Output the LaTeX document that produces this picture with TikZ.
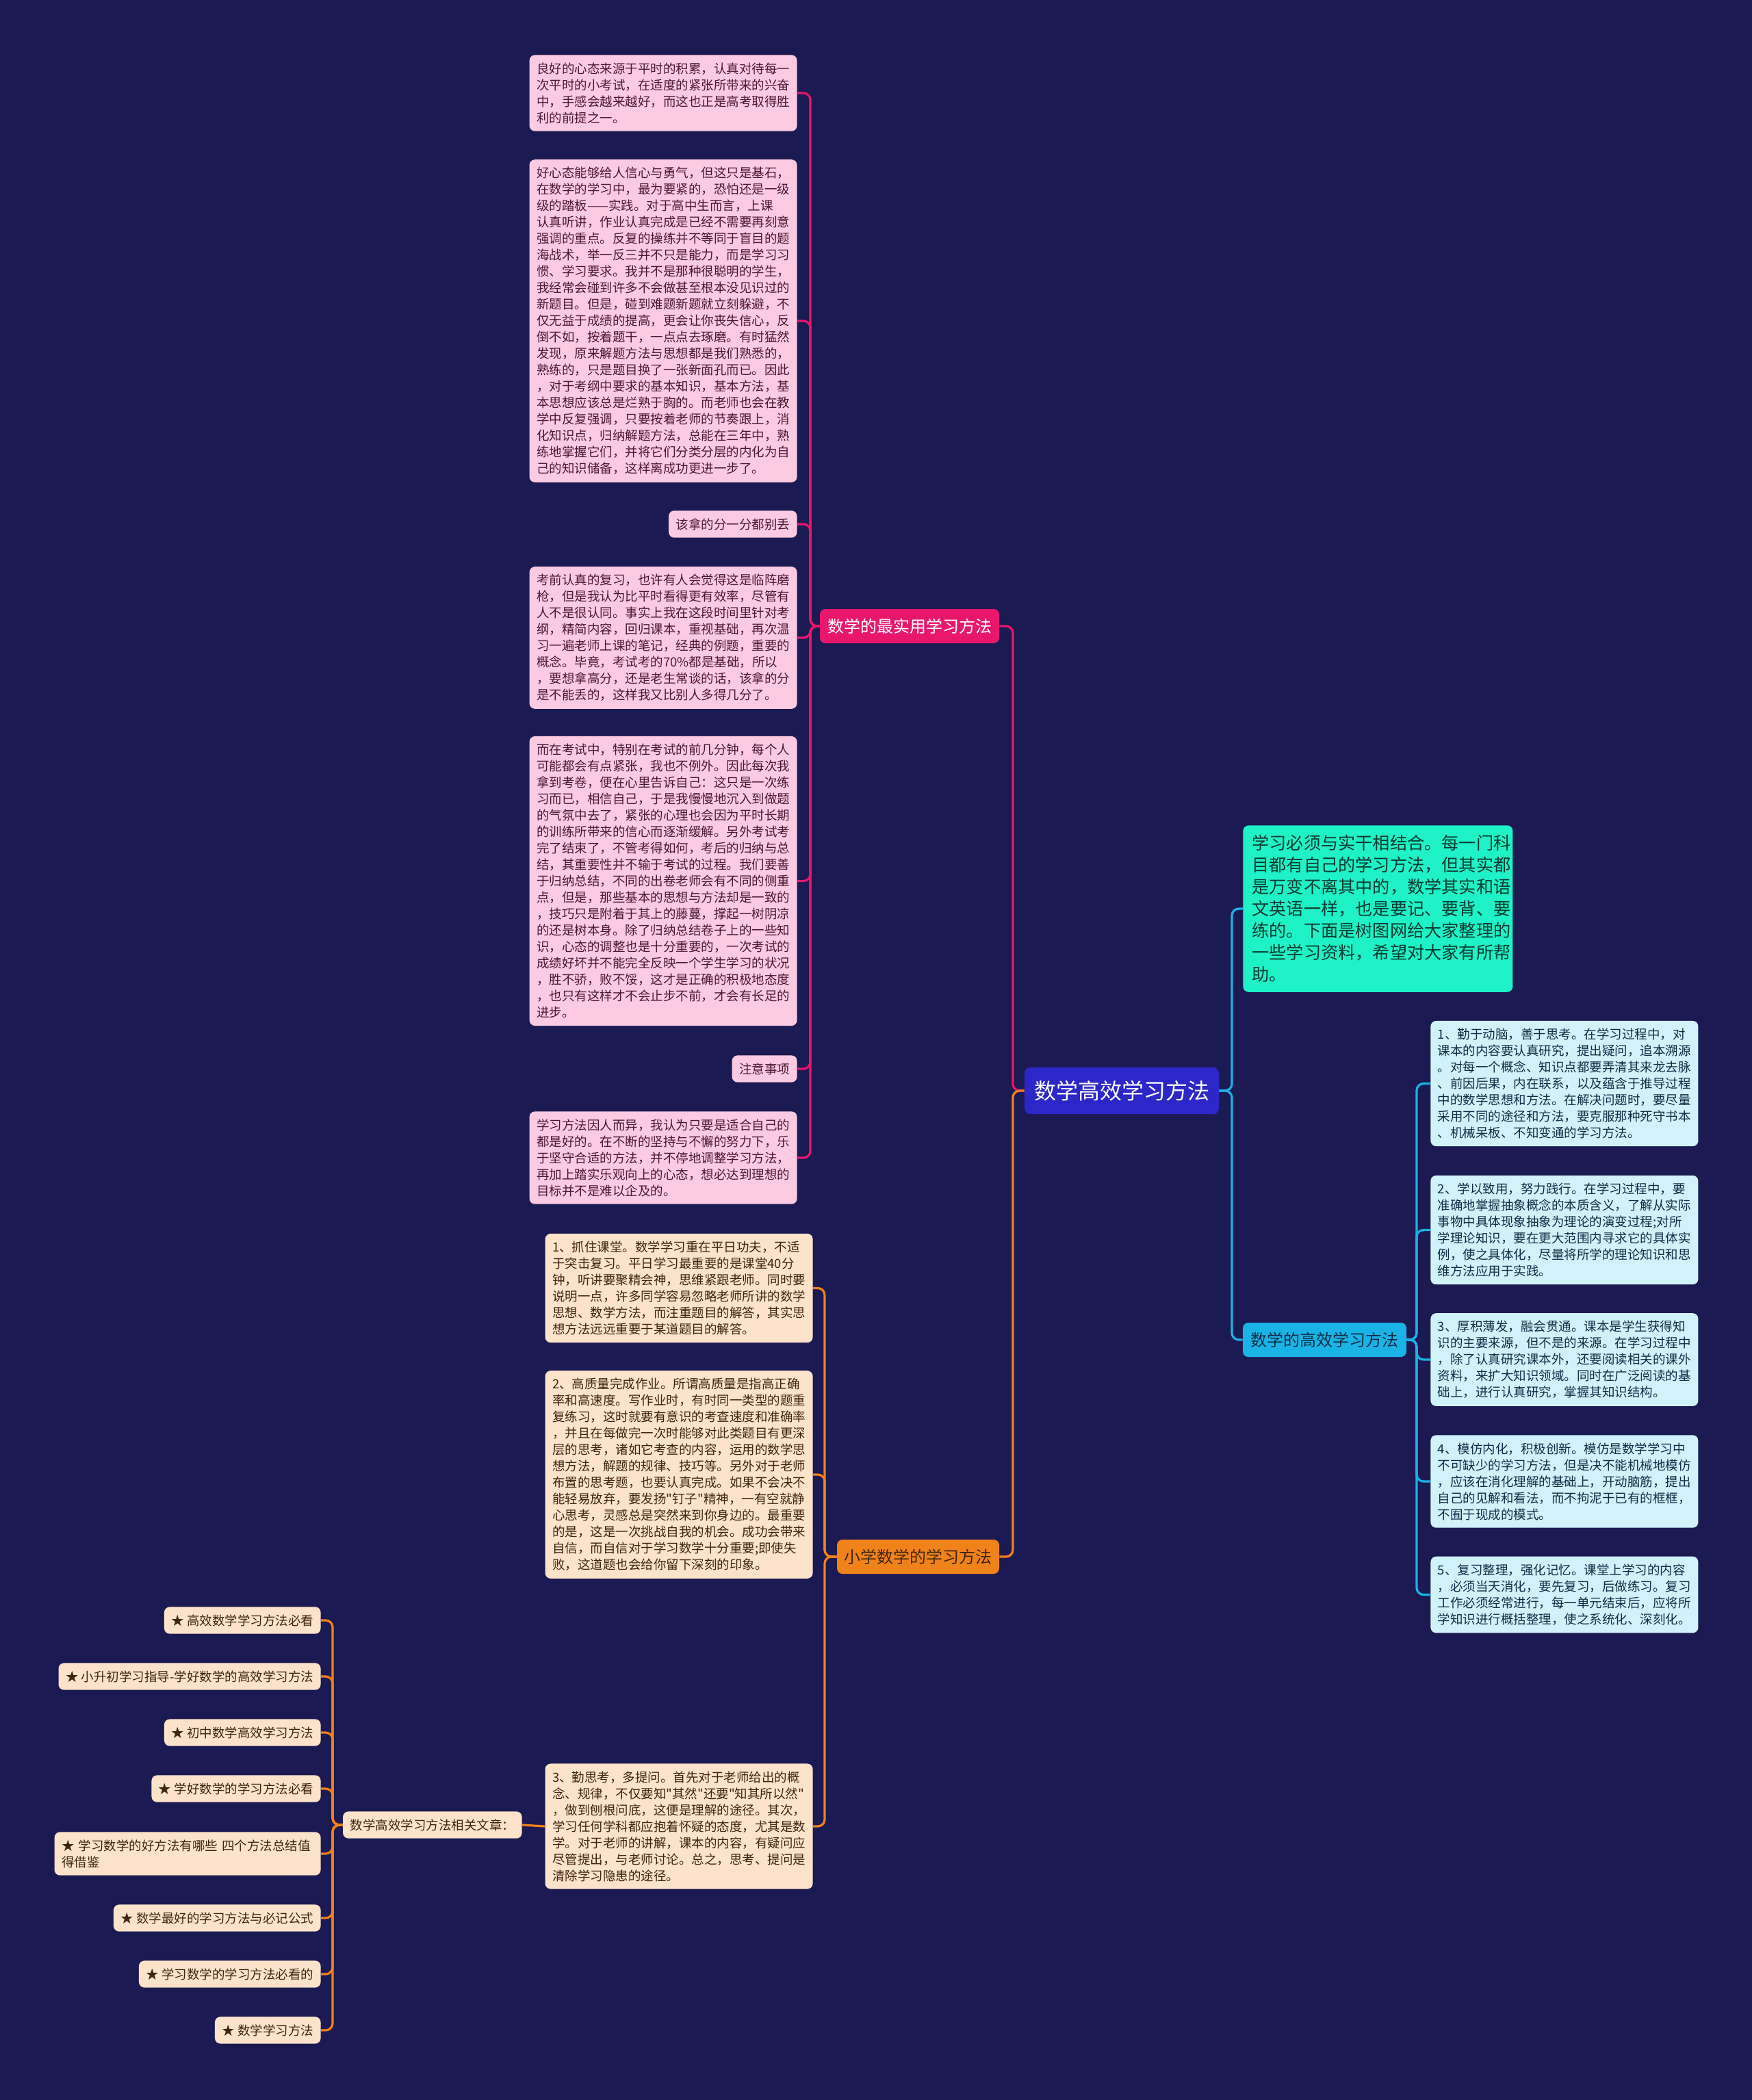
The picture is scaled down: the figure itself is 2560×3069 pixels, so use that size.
\documentclass[tikz,border=0pt]{standalone}
\usepackage{fontspec}
\setmainfont{Noto Sans CJK SC}[Ligatures=TeXOff]
\definecolor{bgc}{HTML}{1C1A52}
\definecolor{pinkline}{HTML}{E8176C}
\definecolor{pinkfill}{HTML}{FCCBE1}
\definecolor{pinktext}{HTML}{4A1832}
\definecolor{orgline}{HTML}{F0821A}
\definecolor{orgfill}{HTML}{FDE3C9}
\definecolor{orgtext}{HTML}{3E2510}
\definecolor{cyline}{HTML}{1AB3E6}
\definecolor{cyfill}{HTML}{CFF2FB}
\definecolor{cytext}{HTML}{0D2E46}
\definecolor{grfill}{HTML}{1EF2C6}
\definecolor{grtext}{HTML}{0B3A30}
\definecolor{ctrfill}{HTML}{2C27C8}
\newcommand\mmbody{\fontsize{9.25pt}{12pt}\selectfont}
\newcommand\mmbranch{\fontsize{12pt}{14pt}\selectfont}
\newcommand\mmcenter{\fontsize{16pt}{19pt}\selectfont}
\newcommand\mmgreen{\fontsize{12.6pt}{16pt}\selectfont}
\begin{document}
\begin{tikzpicture}[x=0.5pt,y=-0.5pt,
  leaf/.style={rounded corners=4pt, inner xsep=5.25pt, inner ysep=5.5pt, font=\mmbody, align=left},
  wide/.style={text width=185pt},
  pinkleaf/.style={leaf, fill=pinkfill, text=pinktext},
  orgleaf/.style={leaf, fill=orgfill, text=orgtext},
  cyleaf/.style={leaf, fill=cyfill, text=cytext},
  branch/.style={rounded corners=4pt, font=\mmbranch, minimum height=25pt, inner xsep=5pt, inner ysep=3pt},
  conn/.style={line width=1.6pt, rounded corners=5pt}]
\fill[bgc] (0,0) rectangle (2560,3069);
\useasboundingbox (0,0) rectangle (2560,3069);

% central and branches
\node[rounded corners=4pt, fill=ctrfill, text=white, font=\mmcenter, minimum width=142pt, minimum height=34pt] (ctr) at (1639,1594) {数学高效学习方法};
\node[branch, fill=pinkline, text=white, minimum width=131pt] (b1) at (1329,915) {数学的最实用学习方法};
\node[branch, fill=orgline, text=orgtext, minimum width=118.5pt] (b2) at (1341.5,2275) {小学数学的学习方法};
\node[branch, fill=cyline, text=cytext, minimum width=119.5pt] (b3) at (1935.5,1958) {数学的高效学习方法};

% green intro
\node[rounded corners=4pt, fill=grfill, text=grtext, font=\mmgreen, align=left, text width=184pt, inner xsep=6.5pt, inner ysep=7pt, anchor=west] (g) at (1816,1328) {学习必须与实干相结合。每一门科\\目都有自己的学习方法，但其实都\\是万变不离其中的，数学其实和语\\文英语一样，也是要记、要背、要\\练的。下面是树图网给大家整理的\\一些学习资料，希望对大家有所帮\\助。};

% pink leaves
\node[pinkleaf, wide, anchor=east] (p1) at (1165,136) {良好的心态来源于平时的积累，认真对待每一\\次平时的小考试，在适度的紧张所带来的兴奋\\中，手感会越来越好，而这也正是高考取得胜\\利的前提之一。};
\node[pinkleaf, wide, anchor=east] (p2) at (1165,469) {好心态能够给人信心与勇气，但这只是基石，\\在数学的学习中，最为要紧的，恐怕还是一级\\级的踏板——实践。对于高中生而言，上课\\认真听讲，作业认真完成是已经不需要再刻意\\强调的重点。反复的操练并不等同于盲目的题\\海战术，举一反三并不只是能力，而是学习习\\惯、学习要求。我并不是那种很聪明的学生，\\我经常会碰到许多不会做甚至根本没见识过的\\新题目。但是，碰到难题新题就立刻躲避，不\\仅无益于成绩的提高，更会让你丧失信心，反\\倒不如，按着题干，一点点去琢磨。有时猛然\\发现，原来解题方法与思想都是我们熟悉的，\\熟练的，只是题目换了一张新面孔而已。因此\\，对于考纲中要求的基本知识，基本方法，基\\本思想应该总是烂熟于胸的。而老师也会在教\\学中反复强调，只要按着老师的节奏跟上，消\\化知识点，归纳解题方法，总能在三年中，熟\\练地掌握它们，并将它们分类分层的内化为自\\己的知识储备，这样离成功更进一步了。};
\node[pinkleaf, anchor=east] (p3) at (1165,766) {该拿的分一分都别丢};
\node[pinkleaf, wide, anchor=east] (p4) at (1165,932) {考前认真的复习，也许有人会觉得这是临阵磨\\枪，但是我认为比平时看得更有效率，尽管有\\人不是很认同。事实上我在这段时间里针对考\\纲，精简内容，回归课本，重视基础，再次温\\习一遍老师上课的笔记，经典的例题，重要的\\概念。毕竟，考试考的70\%都是基础，所以\\，要想拿高分，还是老生常谈的话，该拿的分\\是不能丢的，这样我又比别人多得几分了。};
\node[pinkleaf, wide, anchor=east] (p5) at (1165,1287.5) {而在考试中，特别在考试的前几分钟，每个人\\可能都会有点紧张，我也不例外。因此每次我\\拿到考卷，便在心里告诉自己：这只是一次练\\习而已，相信自己，于是我慢慢地沉入到做题\\的气氛中去了，紧张的心理也会因为平时长期\\的训练所带来的信心而逐渐缓解。另外考试考\\完了结束了，不管考得如何，考后的归纳与总\\结，其重要性并不输于考试的过程。我们要善\\于归纳总结，不同的出卷老师会有不同的侧重\\点，但是，那些基本的思想与方法却是一致的\\，技巧只是附着于其上的藤蔓，撑起一树阴凉\\的还是树本身。除了归纳总结卷子上的一些知\\识，心态的调整也是十分重要的，一次考试的\\成绩好坏并不能完全反映一个学生学习的状况\\，胜不骄，败不馁，这才是正确的积极地态度\\，也只有这样才不会止步不前，才会有长足的\\进步。};
\node[pinkleaf, anchor=east] (p6) at (1165,1562) {注意事项};
\node[pinkleaf, wide, anchor=east] (p7) at (1165,1692) {学习方法因人而异，我认为只要是适合自己的\\都是好的。在不断的坚持与不懈的努力下，乐\\于坚守合适的方法，并不停地调整学习方法，\\再加上踏实乐观向上的心态，想必达到理想的\\目标并不是难以企及的。};

% orange leaves
\node[orgleaf, wide, anchor=east] (o1) at (1188,1882.5) {1、抓住课堂。数学学习重在平日功夫，不适\\于突击复习。平日学习最重要的是课堂40分\\钟，听讲要聚精会神，思维紧跟老师。同时要\\说明一点，许多同学容易忽略老师所讲的数学\\思想、数学方法，而注重题目的解答，其实思\\想方法远远重要于某道题目的解答。};
\node[orgleaf, wide, anchor=east] (o2) at (1188,2155) {2、高质量完成作业。所谓高质量是指高正确\\率和高速度。写作业时，有时同一类型的题重\\复练习，这时就要有意识的考查速度和准确率\\，并且在每做完一次时能够对此类题目有更深\\层的思考，诸如它考查的内容，运用的数学思\\想方法，解题的规律、技巧等。另外对于老师\\布置的思考题，也要认真完成。如果不会决不\\能轻易放弃，要发扬"钉子"精神，一有空就静\\心思考，灵感总是突然来到你身边的。最重要\\的是，这是一次挑战自我的机会。成功会带来\\自信，而自信对于学习数学十分重要;即使失\\败，这道题也会给你留下深刻的印象。};
\node[orgleaf, wide, anchor=east] (o3) at (1188,2669) {3、勤思考，多提问。首先对于老师给出的概\\念、规律，不仅要知"其然"还要"知其所以然"\\，做到刨根问底，这便是理解的途径。其次，\\学习任何学科都应抱着怀疑的态度，尤其是数\\学。对于老师的讲解，课本的内容，有疑问应\\尽管提出，与老师讨论。总之，思考、提问是\\清除学习隐患的途径。};

% related articles
\node[orgleaf, anchor=east] (rel) at (763,2667) {数学高效学习方法相关文章：};
\node[orgleaf, anchor=east] (l1) at (469,2368) {★ 高效数学学习方法必看};
\node[orgleaf, anchor=east] (l2) at (469,2450) {★ 小升初学习指导-学好数学的高效学习方法};
\node[orgleaf, anchor=east] (l3) at (469,2532) {★ 初中数学高效学习方法};
\node[orgleaf, anchor=east] (l4) at (469,2614) {★ 学好数学的学习方法必看};
\node[orgleaf, anchor=east, text width=184pt] (l5) at (469,2709) {★ 学习数学的好方法有哪些 四个方法总结值\\得借鉴};
\node[orgleaf, anchor=east] (l6) at (469,2803) {★ 数学最好的学习方法与必记公式};
\node[orgleaf, anchor=east] (l7) at (469,2885) {★ 学习数学的学习方法必看的};
\node[orgleaf, anchor=east] (l8) at (469,2967) {★ 数学学习方法};

% cyan leaves
\node[cyleaf, wide, anchor=west] (c1) at (2090,1583.5) {1、勤于动脑，善于思考。在学习过程中，对\\课本的内容要认真研究，提出疑问，追本溯源\\。对每一个概念、知识点都要弄清其来龙去脉\\、前因后果，内在联系，以及蕴含于推导过程\\中的数学思想和方法。在解决问题时，要尽量\\采用不同的途径和方法，要克服那种死守书本\\、机械呆板、不知变通的学习方法。};
\node[cyleaf, wide, anchor=west] (c2) at (2090,1797.5) {2、学以致用，努力践行。在学习过程中，要\\准确地掌握抽象概念的本质含义，了解从实际\\事物中具体现象抽象为理论的演变过程;对所\\学理论知识，要在更大范围内寻求它的具体实\\例，使之具体化，尽量将所学的理论知识和思\\维方法应用于实践。};
\node[cyleaf, wide, anchor=west] (c3) at (2090,1987) {3、厚积薄发，融会贯通。课本是学生获得知\\识的主要来源，但不是的来源。在学习过程中\\，除了认真研究课本外，还要阅读相关的课外\\资料，来扩大知识领域。同时在广泛阅读的基\\础上，进行认真研究，掌握其知识结构。};
\node[cyleaf, wide, anchor=west] (c4) at (2090,2165) {4、模仿内化，积极创新。模仿是数学学习中\\不可缺少的学习方法，但是决不能机械地模仿\\，应该在消化理解的基础上，开动脑筋，提出\\自己的见解和看法，而不拘泥于已有的框框，\\不囿于现成的模式。};
\node[cyleaf, wide, anchor=west] (c5) at (2090,2330.5) {5、复习整理，强化记忆。课堂上学习的内容\\，必须当天消化，要先复习，后做练习。复习\\工作必须经常进行，每一单元结束后，应将所\\学知识进行概括整理，使之系统化、深刻化。};

% spine coordinates
\coordinate (cl) at (1480,1594);
\coordinate (cr) at (1800,1594);
\coordinate (ps) at (1184,915);
\coordinate (os) at (1205,2275);
\coordinate (cs) at (2070,1958);
\coordinate (ls) at (486,2667);

% connectors
\foreach \n in {p1,p2,p3,p4,p5,p6,p7}
  \draw[conn, pinkline] (b1.west) -- (ps) |- (\n.east);
\foreach \n in {o1,o2,o3}
  \draw[conn, orgline] (b2.west) -- (os) |- (\n.east);
\foreach \n in {c1,c2,c3,c4,c5}
  \draw[conn, cyline] (b3.east) -- (cs) |- (\n.west);
\foreach \n in {l1,l2,l3,l4,l5,l6,l7,l8}
  \draw[conn, orgline] (rel.west) -- (ls) |- (\n.east);
\draw[conn, orgline] (o3.west) -- (rel.east);
\draw[conn, pinkline] (ctr.west) -- (cl) |- (b1.east);
\draw[conn, orgline] (ctr.west) -- (cl) |- (b2.east);
\draw[conn, cyline] (ctr.east) -- (cr) |- (g.west);
\draw[conn, cyline] (ctr.east) -- (cr) |- (b3.west);
\end{tikzpicture}
\end{document}
